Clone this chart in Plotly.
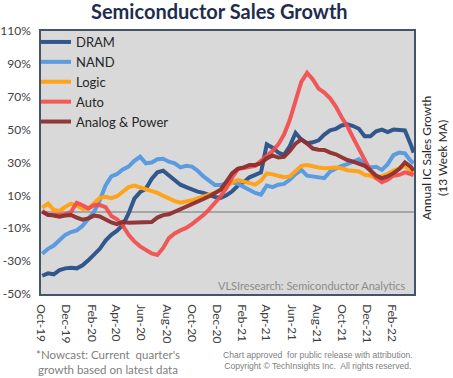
import plotly.graph_objects as go
import pandas as pd

# biweekly sample dates, final point at end of axis
dates = list(pd.date_range("2019-10-04", periods=65, freq="14D").strftime("%Y-%m-%d")) + ["2022-03-25"]

dram = [-38.9, -37.4, -38.0, -35.5, -34.4, -34.0, -34.4, -32.5, -29.5, -26.0,
        -22.5, -17.5, -14.0, -11.5, -8.0, -1.0, 8.0, 12.0, 14.0, 20.0,
        24.0, 25.0, 22.0, 19.0, 16.5, 15.0, 13.5, 12.3, 11.5, 10.0,
        9.0, 8.4, 10.0, 12.5, 16.0, 18.0, 21.0, 22.5, 24.0, 41.0,
        39.0, 36.0, 34.6, 40.0, 48.0, 44.0, 41.7, 42.3, 43.5, 47.0,
        49.5, 50.5, 52.5, 53.2, 52.2, 50.5, 46.0, 46.0, 49.0, 50.0,
        48.5, 50.0, 50.0, 49.5, 41.0, 36.0]
nand = [-25.5, -22.5, -20.5, -17.0, -14.0, -12.3, -11.3, -8.5, -4.5, 0.0,
        7.0, 16.0, 21.5, 23.0, 25.8, 27.5, 31.0, 33.5, 29.5, 30.0,
        32.0, 32.3, 30.5, 29.5, 27.0, 28.0, 27.5, 25.0, 21.5, 19.0,
        16.3, 16.3, 17.0, 18.0, 17.0, 15.0, 13.5, 11.5, 10.5, 16.0,
        15.0, 16.5, 17.0, 19.5, 23.0, 25.5, 22.0, 21.5, 20.5, 20.5,
        24.5, 26.3, 28.0, 29.0, 30.5, 32.0, 29.0, 27.0, 27.4, 25.5,
        29.0, 34.5, 36.0, 35.5, 31.0, 29.5]
logic = [2.5, 5.0, 1.2, 0.5, 3.0, 5.0, 3.8, 1.8, 1.8, 5.0,
         8.5, 9.2, 8.3, 9.5, 12.5, 15.0, 16.0, 15.0, 13.8, 12.5,
         11.5, 9.8, 8.0, 6.5, 5.5, 6.0, 7.0, 8.2, 9.5, 10.5,
         11.5, 13.5, 16.0, 18.0, 19.3, 18.5, 17.3, 16.5, 19.0, 23.4,
         22.8, 22.0, 21.0, 21.5, 25.0, 28.0, 28.5, 27.5, 27.0, 26.5,
         27.0, 27.0, 26.5, 25.3, 25.0, 24.5, 22.5, 22.0, 20.5, 21.5,
         23.0, 25.0, 26.5, 28.0, 24.5, 24.0]
auto = [0.5, -1.9, -1.9, -1.9, -1.5, 0.0, 5.5, 4.0, 2.1, 4.0,
        4.1, 2.8, -2.5, -4.5, -8.5, -14.0, -18.0, -21.0, -23.0, -25.3,
        -26.3, -22.0, -16.0, -13.2, -11.3, -9.8, -7.5, -4.8, -2.0, 1.5,
        5.2, 9.5, 14.5, 21.0, 26.0, 26.5, 27.0, 28.0, 31.0, 34.0,
        37.0, 41.0, 47.0, 56.0, 68.0, 79.0, 84.5, 80.5, 75.0, 72.5,
        69.0, 64.0, 57.5, 52.0, 45.0, 38.0, 32.0, 25.0, 20.5, 18.0,
        19.5, 22.0, 22.5, 24.0, 23.0, 22.4]
analog = [0.0, -1.8, -2.2, -3.0, -2.2, -1.9, -3.5, -4.8, -4.0, -2.3,
          -2.8, -4.5, -6.5, -7.5, -6.1, -6.6, -6.6, -6.3, -6.6, -6.2,
          -3.5, -2.0, -1.5, 0.0, 1.5, 3.0, 4.2, 6.0, 7.8, 9.5,
          11.2, 13.5, 18.5, 23.5, 26.3, 27.0, 28.5, 28.5, 29.5, 32.5,
          34.3, 33.0, 33.5, 37.0, 41.5, 44.0, 41.5, 38.5, 37.8, 37.6,
          36.0, 35.0, 33.2, 31.5, 30.5, 29.3, 28.0, 25.2, 22.0, 20.4,
          21.5, 23.5, 26.0, 30.0, 27.5, 25.0]

series = [
    ("DRAM", dram, "#30588C", 1.0),
    ("NAND", nand, "#5B9BE0", 1.0),
    ("Logic", logic, "#FFA31A", 1.0),
    ("Auto", auto, "#F44A4A", 0.9),
    ("Analog & Power", analog, "#8E2F2F", 0.95),
]

y_ticks = list(range(-50, 111, 20))
y_tick_text = [f"{v}%" for v in y_ticks]

fig = go.Figure()
for name, vals, color, op in series:
    fig.add_trace(go.Scatter(x=dates, y=vals, mode="lines", name=name,
                             line=dict(color=color, width=4), opacity=op))

base_font = "Lato, Open Sans, sans-serif"
W, H = 453, 378
# plot area in pixels: x 41..414, y 31..294
L, T = 41, 31
R, B = W - 414, H - 294
pw, ph = W - L - R, H - T - B


def px(x):
    return (x - L) / pw


def py(y):
    return (H - B - y) / ph


fig.update_layout(
    width=W, height=H,
    margin=dict(l=L, r=R, t=T, b=B, pad=0, autoexpand=False),
    paper_bgcolor="white", plot_bgcolor="#D9D9D9",
    font=dict(family=base_font, color="#404040", size=12),
    showlegend=True,
    legend=dict(x=px(36), y=py(27), xanchor="left", yanchor="top", bgcolor="rgba(0,0,0,0)",
                font=dict(family=base_font, size=13, color="#262626")),
    xaxis=dict(type="date", range=["2019-10-01", "2022-03-26"], dtick="M2",
               tick0="2019-10-01", tickformat="%b-%y", tickangle=90,
               showgrid=False, zeroline=False, showline=True, mirror=True,
               linecolor="#44546A", linewidth=1.5, ticks="", automargin=False,
               ticklabelstandoff=6,
               tickfont=dict(size=12, color="#404040", family=base_font)),
    yaxis=dict(range=[-50, 110], tickvals=y_ticks, ticktext=y_tick_text,
               showgrid=False, zeroline=True, zerolinecolor="#A6A6A6", zerolinewidth=2,
               showline=True, mirror=True, linecolor="#44546A", linewidth=1.5,
               ticks="", ticklabelstandoff=6, automargin=False,
               tickfont=dict(size=12, color="#404040", family=base_font)),
)

fig.add_annotation(text="<b>Semiconductor Sales Growth</b>", xref="paper", yref="paper",
                   x=px(219), y=py(11), xanchor="center", yanchor="middle", showarrow=False,
                   font=dict(family=base_font, size=20, color="#1F2D4D"))
fig.add_annotation(text="Annual IC Sales Growth<br>(13 Week MA)", xref="paper", yref="paper",
                   x=px(434), y=py(158), xanchor="center", yanchor="middle",
                   textangle=-90, showarrow=False,
                   font=dict(family=base_font, size=12, color="#262626"))
fig.add_annotation(text="VLSIresearch: Semiconductor Analytics", xref="paper", yref="paper",
                   x=px(408), y=py(285), xanchor="right", yanchor="middle",
                   showarrow=False, font=dict(family=base_font, size=11, color="#8C8C8C"))
fig.add_annotation(text="*Nowcast: Current  quarter's<br>growth based on latest data",
                   xref="paper", yref="paper", x=px(108), y=py(362),
                   xanchor="center", yanchor="middle", showarrow=False,
                   font=dict(family=base_font, size=11.5, color="#808080"))
fig.add_annotation(text="Chart approved  for public release with attribution.<br>Copyright © TechInsights Inc.  All rights reserved.",
                   xref="paper", yref="paper", x=px(318), y=py(360),
                   xanchor="center", yanchor="middle", showarrow=False,
                   font=dict(family="Liberation Sans, sans-serif", size=8.6, color="#808080"))

fig.write_html("out.html", config={"displayModeBar": False},
               post_script="document.body.style.margin='0';")
